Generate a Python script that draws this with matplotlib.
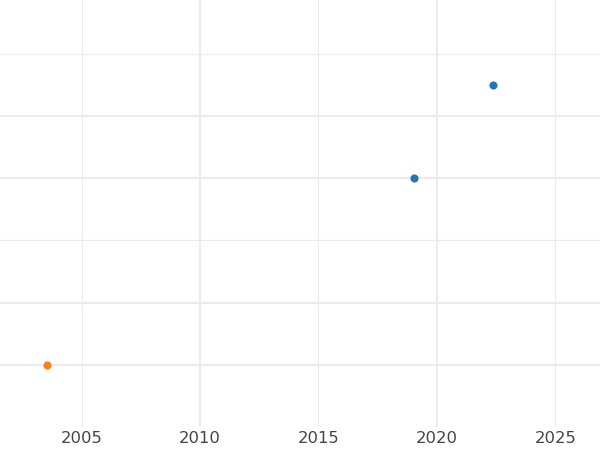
import matplotlib
matplotlib.use("Agg")
import matplotlib.pyplot as plt
from matplotlib.ticker import FixedLocator

# Data
years_a = [2019.03, 2022.36]
values_a = [3.0, 4.5]
years_b = [2003.54]
values_b = [0.0]
color_a = "#1f77b4"
color_b = "#ff7f0e"

xticks = [2005, 2010, 2015, 2020, 2025]
x_major = [2010, 2020]
x_minor = [2005, 2015, 2025]
y_major = [0, 1, 3, 4]
y_minor = [2, 5]

fig = plt.figure(figsize=(6, 4.5), dpi=100)
ax = fig.add_axes([0, 1 - 427 / 450, 1, 427 / 450])

ax.set_xlim(2001.56, 2026.88)
ax.set_ylim(-0.995, 5.86)

grid_c = "#ebebeb"
for x in x_major:
    ax.axvline(x, color=grid_c, lw=1.5, zorder=0)
for x in x_minor:
    ax.axvline(x, color=grid_c, lw=0.8, zorder=0)
for y in y_major:
    ax.axhline(y, color=grid_c, lw=1.5, zorder=0)
for y in y_minor:
    ax.axhline(y, color=grid_c, lw=0.8, zorder=0)

ax.scatter(years_a, values_a, s=34, color=color_a, zorder=3, linewidths=0)
ax.scatter(years_b, values_b, s=34, color=color_b, zorder=3, linewidths=0)

ax.xaxis.set_major_locator(FixedLocator(xticks))
ax.set_xticklabels([str(t) for t in xticks])
ax.tick_params(axis="x", length=0, labelsize=11.8, labelcolor="#444444", pad=3.2)
ax.set_yticks([])
for s in ax.spines.values():
    s.set_visible(False)

fig.savefig("out.png", dpi=100)
